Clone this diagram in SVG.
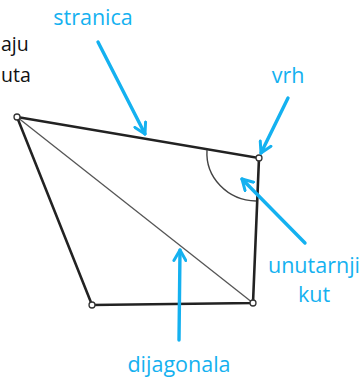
<svg xmlns="http://www.w3.org/2000/svg" width="364" height="383" viewBox="0 0 364 383">
<defs>
<style>
.edge{stroke:#222;stroke-width:2.6;fill:none;stroke-linecap:round}
.diag{stroke:#555;stroke-width:1.3;fill:none}
.arc{stroke:#444;stroke-width:1.4;fill:none}
.vtx{fill:#fff;stroke:#333;stroke-width:1.3}
.ptr{stroke:#14B1F0;stroke-width:3.4;fill:none;stroke-linecap:round}
.lbl{font-family:"Open Sans","Liberation Sans",sans-serif;font-size:21.5px;fill:#14B1F0}
.blk{font-family:"Open Sans","Liberation Sans",sans-serif;font-size:19.5px;fill:#111}
</style>
<marker id="ah" viewBox="0 0 10 10" refX="8" refY="5" markerWidth="4.4" markerHeight="4.4" markerUnits="strokeWidth" orient="auto">
<path d="M1,1 L8,5 L1,9" fill="none" stroke="#14B1F0" stroke-width="2" stroke-linecap="round" stroke-linejoin="round"/>
</marker>
</defs>
<rect width="364" height="383" fill="#fff"/>
<g id="shape">
<path class="edge" d="M17,117 L259,158 L253,303 L92,305 Z"/>
<line class="diag" x1="17" y1="117" x2="253" y2="303"/>
<path class="arc" d="M207,150 A50 48 0 0 0 256,201"/>
<circle class="vtx" cx="17" cy="117" r="3"/>
<circle class="vtx" cx="259" cy="158" r="3"/>
<circle class="vtx" cx="253" cy="303" r="3"/>
<circle class="vtx" cx="92" cy="305" r="3"/>
</g>
<g id="connectors">
<line class="ptr" x1="98" y1="42" x2="145" y2="134" marker-end="url(#ah)"/>
<line class="ptr" x1="288" y1="98" x2="261" y2="153" marker-end="url(#ah)"/>
<line class="ptr" x1="305" y1="243" x2="242" y2="179" marker-end="url(#ah)"/>
<line class="ptr" x1="179" y1="340" x2="180" y2="250" marker-end="url(#ah)"/>
</g>
<g id="label-stranica"><text class="lbl" x="93" y="25" text-anchor="middle">stranica</text></g>
<g id="label-vrh"><text class="lbl" x="288" y="83" text-anchor="middle">vrh</text></g>
<g id="label-kut"><text class="lbl" x="314" y="273" text-anchor="middle">unutarnji</text><text class="lbl" x="314" y="302" text-anchor="middle">kut</text></g>
<g id="label-dijagonala"><text class="lbl" x="179" y="372" text-anchor="middle">dijagonala</text></g>
<g id="label-cut"><text class="blk" x="1" y="51">aju</text><text class="blk" x="1" y="82">uta</text></g>
</svg>
